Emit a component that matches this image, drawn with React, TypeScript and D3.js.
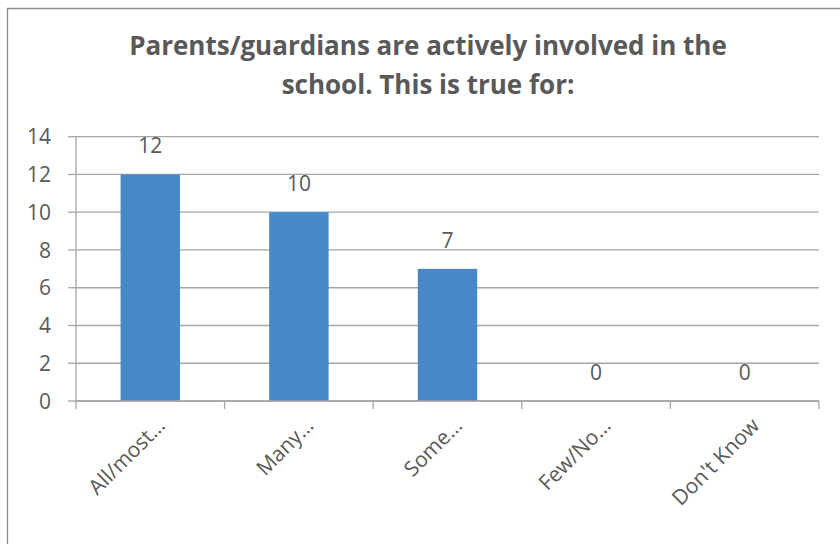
import React from "react";
import * as d3 from "d3";

const categories = ["All/most…", "Many…", "Some…", "Few/No…", "Don't Know"];
const values = [12, 10, 7, 0, 0];
const yTicks = [0, 2, 4, 6, 8, 10, 12, 14];
const titleLines = ["Parents/guardians are actively involved in the", "school. This is true for:"];

const W = 840;
const H = 544;
const FONT = "'Open Sans', sans-serif";
const TEXT = "#595959";
const GRID = "#a6a6a6";
const BAR = "#4788c8";

export default function App() {
  const left = 76;
  const right = 819;
  const y0 = 401;
  const yTop = 136.7;

  const x = d3.scaleBand<string>().domain(categories).range([left, right]).paddingInner(0).paddingOuter(0);
  const y = d3.scaleLinear().domain([0, 14]).range([y0, yTop]);
  const bw = x.bandwidth() / 2.5;

  return (
    <svg width={W} height={H} style={{ position: "absolute", left: 0, top: 0, background: "#fff" }}>
      <rect x={0} y={0} width={W} height={H} fill="#fff" />
      {/* outer chart border */}
      <path d={`M7.5,${H + 2} V8.5 H${W + 2}`} fill="none" stroke="#8c8c8c" strokeWidth={1.3} />
      {/* title */}
      {titleLines.map((t, i) => (
        <text
          key={i}
          x={428}
          y={55 + i * 39}
          textAnchor="middle"
          fontFamily={FONT}
          fontWeight="bold"
          fontSize={26}
          fill={TEXT}
        >
          {t}
        </text>
      ))}
      {/* gridlines */}
      {yTicks.map((t) => (
        <line key={"g" + t} x1={left} x2={right} y1={y(t)} y2={y(t)} stroke={GRID} strokeWidth={1.3} />
      ))}
      {/* y ticks */}
      {yTicks.map((t) => (
        <g key={"yt" + t}>
          <line x1={left - 8} x2={left} y1={y(t)} y2={y(t)} stroke={GRID} strokeWidth={1.3} />
          <text x={51} y={y(t)} dy="0.36em" textAnchor="end" fontFamily={FONT} fontSize={21} fill={TEXT}>
            {t}
          </text>
        </g>
      ))}
      {/* y axis */}
      <line x1={left} x2={left} y1={yTop} y2={y0} stroke={GRID} strokeWidth={1.3} />
      {/* bars */}
      {categories.map((c, i) => {
        const cx = (x(c) as number) + x.bandwidth() / 2;
        return (
          <rect key={"b" + c} x={cx - bw / 2} y={y(values[i])} width={bw} height={y0 - y(values[i])} fill={BAR} />
        );
      })}
      {/* data labels */}
      {categories.map((c, i) => {
        const cx = (x(c) as number) + x.bandwidth() / 2;
        return (
          <text key={"l" + c} x={cx} y={y(values[i]) - 21} textAnchor="middle" fontFamily={FONT} fontSize={21} fill={TEXT}>
            {values[i]}
          </text>
        );
      })}
      {/* x axis */}
      <line x1={left} x2={right} y1={y0} y2={y0} stroke={GRID} strokeWidth={1.3} />
      {d3.range(categories.length + 1).map((i) => {
        const xx = left + i * x.bandwidth();
        return <line key={"xt" + i} x1={xx} x2={xx} y1={y0} y2={y0 + 8} stroke={GRID} strokeWidth={1.3} />;
      })}
      {/* category labels */}
      {categories.map((c) => {
        const cx = (x(c) as number) + x.bandwidth() / 2;
        return (
          <text
            key={"c" + c}
            transform={`translate(${cx + 16},${y0 + 26}) rotate(-45)`}
            textAnchor="end"
            fontFamily={FONT}
            fontSize={21}
            fill={TEXT}
          >
            {c}
          </text>
        );
      })}
    </svg>
  );
}
